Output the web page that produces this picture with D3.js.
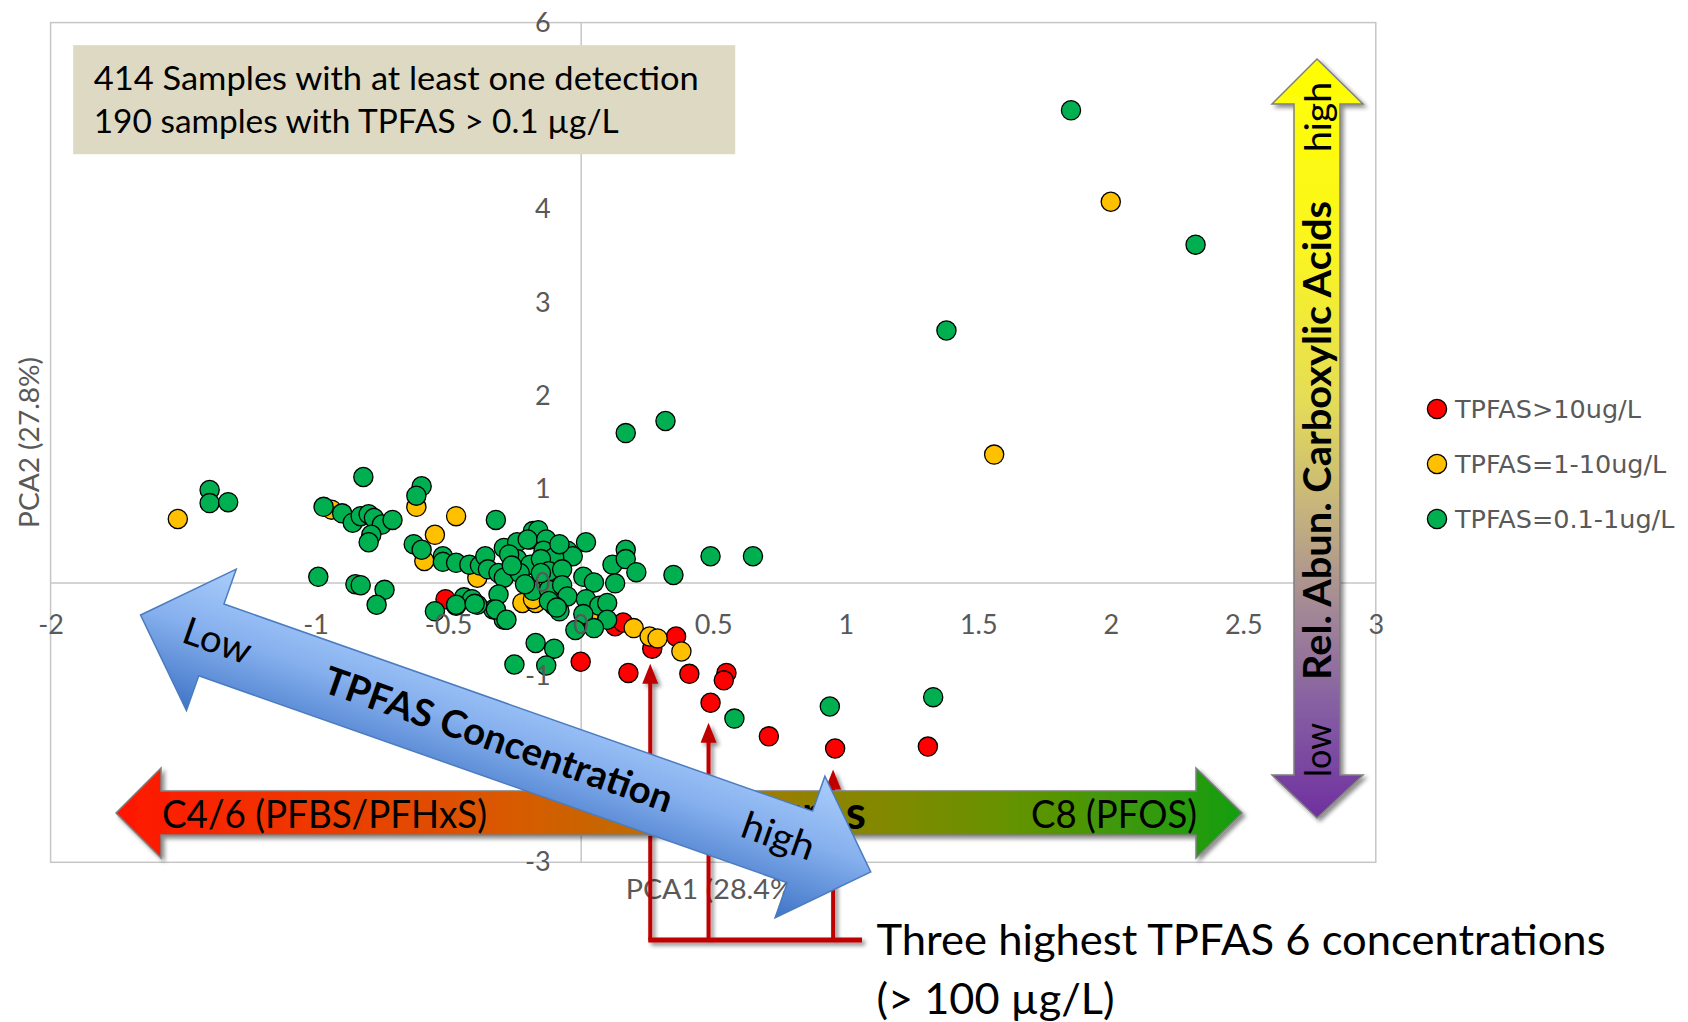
<!DOCTYPE html>
<html>
<head>
<meta charset="utf-8">
<script src="https://cdn.jsdelivr.net/npm/d3@7"></script>
<style>
  html, body { margin: 0; padding: 0; background: #ffffff; }
  svg { display: block; }
</style>
</head>
<body>
<svg id="chart" width="1688" height="1022"></svg>
<script>
// PCA scores [PCA1, PCA2] per TPFAS concentration class
const redPoints = [
  [-0.51, -0.18], [0.13, -0.47], [0.16, -0.43], [0.27, -0.71], [0.36, -0.58],
  [0.41, -0.98], [0.18, -0.97], [0.00, -0.85], [0.55, -0.97], [0.54, -1.05],
  [0.49, -1.29], [0.71, -1.65], [0.96, -1.78], [1.31, -1.76]
];
const orangePoints = [
  [-1.52, 0.68], [-0.94, 0.78], [-0.62, 0.81], [-0.47, 0.71], [-0.55, 0.51],
  [-0.59, 0.23], [-0.39, 0.05], [-0.22, -0.22], [-0.17, -0.22], [-0.18, -0.18],
  [0.03, -0.36], [0.20, -0.49], [0.26, -0.58], [0.29, -0.60], [0.38, -0.74],
  [1.56, 1.37], [2.00, 4.08]
];
const greenPoints = [
  [-1.40, 0.99], [-1.40, 0.85], [-1.33, 0.86],
  [-0.97, 0.81], [-0.90, 0.74], [-0.86, 0.64], [-0.83, 0.71], [-0.80, 0.73],
  [-0.78, 0.69], [-0.75, 0.62], [-0.71, 0.67], [-0.79, 0.51], [-0.80, 0.43],
  [-0.82, 1.13], [-0.60, 1.03], [-0.62, 0.93], [-0.32, 0.67],
  [-0.63, 0.41], [-0.60, 0.35], [-0.52, 0.28], [-0.52, 0.22], [-0.47, 0.21],
  [-0.42, 0.19], [-0.38, 0.18], [-0.36, 0.28], [-0.35, 0.14], [-0.31, 0.10],
  [-0.29, 0.05], [-0.29, 0.37], [-0.24, 0.43], [-0.19, 0.46], [-0.18, 0.55],
  [-0.24, 0.25], [-0.19, 0.19], [-0.23, 0.10], [-0.18, -0.09], [-0.31, -0.13],
  [-0.33, -0.29], [-0.29, -0.40], [-0.27, 0.30], [-0.21, -0.02], [-0.26, 0.18],
  [-0.99, 0.06], [-0.85, -0.02], [-0.83, -0.03], [-0.74, -0.08], [-0.77, -0.24],
  [-0.55, -0.31], [-0.47, -0.25], [-0.44, -0.16], [-0.41, -0.18], [-0.39, -0.24],
  [-0.47, -0.24], [-0.40, -0.23], [-0.32, -0.29], [-0.28, -0.40],
  [-0.16, 0.56], [-0.20, 0.46], [-0.13, 0.46], [-0.14, 0.34], [0.02, 0.43],
  [-0.05, 0.34], [-0.03, 0.28], [-0.10, 0.27], [-0.15, 0.25], [-0.08, 0.41],
  [-0.12, 0.12], [-0.12, -0.08],
  [0.17, 0.35], [0.12, 0.19], [0.17, 0.25], [0.21, 0.11], [0.35, 0.08],
  [0.49, 0.28], [0.65, 0.28],
  [-0.15, 0.10], [-0.07, 0.14], [0.01, 0.06], [0.05, 0.00], [-0.07, -0.03],
  [0.13, -0.01], [-0.05, -0.15], [-0.10, -0.25], [-0.08, -0.31], [0.02, -0.18],
  [0.07, -0.25], [0.10, -0.22], [0.01, -0.34], [0.10, -0.40], [0.05, -0.49],
  [-0.02, -0.51], [-0.12, -0.20], [-0.09, -0.27],
  [-0.17, -0.65], [-0.10, -0.71], [-0.13, -0.89], [-0.25, -0.88],
  [0.58, -1.46], [0.94, -1.33], [1.33, -1.23],
  [0.17, 1.60], [0.32, 1.73], [1.38, 2.70], [1.85, 5.06], [2.32, 3.62]
];

const seriesNames = ["TPFAS>10ug/L", "TPFAS=1-10ug/L", "TPFAS=0.1-1ug/L"];
const seriesColors = ["#FF0000", "#FFC000", "#00B050"];

const xTicks = [-2, -1.5, -1, -0.5, 0, 0.5, 1, 1.5, 2, 2.5, 3];
const yTicks = [-3, -2, -1, 0, 1, 2, 3, 4, 6];

// indices into redPoints of the three samples above 100 µg/L
const highestThree = [3, 10, 12];
const highestTipGap = [15, 20, 21];

const infoLines = [
  "414 Samples with at least one detection",
  "190 samples with TPFAS > 0.1 µg/L"
];

const svg = d3.select("#chart");
const CAL = "Lato, 'Open Sans', sans-serif";

// ---- defs: gradients and shadow ----
const defs = svg.append("defs");

const shadow = defs.append("filter").attr("id", "shadow")
  .attr("x", "-10%").attr("y", "-10%").attr("width", "130%").attr("height", "130%");
shadow.append("feGaussianBlur").attr("in", "SourceAlpha").attr("stdDeviation", 2.2);
shadow.append("feOffset").attr("dx", 3).attr("dy", 3).attr("result", "off");
shadow.append("feComponentTransfer").attr("in", "off").attr("result", "soft")
  .append("feFuncA").attr("type", "linear").attr("slope", 0.45);
const sm = shadow.append("feMerge");
sm.append("feMergeNode").attr("in", "soft");
sm.append("feMergeNode").attr("in", "SourceGraphic");

const gRG = defs.append("linearGradient").attr("id", "gradRG")
  .attr("gradientUnits", "userSpaceOnUse")
  .attr("x1", 116).attr("y1", 0).attr("x2", 1242).attr("y2", 0);
[[0, "#FF1600"], [0.15, "#F03400"], [0.35, "#D85A00"], [0.5, "#B87000"],
 [0.62, "#908200"], [0.78, "#6A9200"], [1, "#149E12"]]
  .forEach(([o, c]) => gRG.append("stop").attr("offset", o).attr("stop-color", c));

const gYP = defs.append("linearGradient").attr("id", "gradYP")
  .attr("gradientUnits", "userSpaceOnUse")
  .attr("x1", 0).attr("y1", 59).attr("x2", 0).attr("y2", 818);
[[0, "#FFFF00"], [0.25, "#FAF521"], [0.45, "#E5DC57"], [0.6, "#C4B27E"],
 [0.72, "#A48A95"], [0.85, "#8660A2"], [1, "#7030A0"]]
  .forEach(([o, c]) => gYP.append("stop").attr("offset", o).attr("stop-color", c));

const gBL = defs.append("linearGradient").attr("id", "gradBlue")
  .attr("gradientUnits", "userSpaceOnUse")
  .attr("x1", 0).attr("y1", -75).attr("x2", 0).attr("y2", 75);
[[0, "#AACDFB"], [0.45, "#86B0EE"], [1, "#3F74C6"]]
  .forEach(([o, c]) => gBL.append("stop").attr("offset", o).attr("stop-color", c));

// ---- scales ----
const x = d3.scaleLinear().domain([-2, 3]).range([50.6, 1375.8]);
const y = d3.scaleLinear().domain([-3, 6]).range([862.3, 22.6]);

// ---- frame and zero lines ----
svg.append("rect")
  .attr("x", x(-2)).attr("y", y(6))
  .attr("width", x(3) - x(-2)).attr("height", y(-3) - y(6))
  .attr("fill", "none").attr("stroke", "#C6C6C6").attr("stroke-width", 1.5);

const fmt = d => String(d);

const xAxisLine = svg.append("g").attr("transform", `translate(0,${y(0)})`)
  .call(d3.axisBottom(x).tickValues(xTicks).tickSize(0).tickSizeOuter(0).tickFormat(""));
xAxisLine.select(".domain").attr("stroke", "#C6C6C6").attr("stroke-width", 1.5);
const yAxisLine = svg.append("g").attr("transform", `translate(${x(0)},0)`)
  .call(d3.axisLeft(y).tickValues(yTicks).tickSize(0).tickSizeOuter(0).tickFormat(""));
yAxisLine.select(".domain").attr("stroke", "#C6C6C6").attr("stroke-width", 1.5);

// ---- scatter points (red first, green on top) ----
const allSeries = [redPoints, orangePoints, greenPoints];
allSeries.forEach((pts, i) => {
  svg.append("g").selectAll("circle").data(pts).join("circle")
    .attr("cx", d => x(d[0])).attr("cy", d => y(d[1])).attr("r", 9.6)
    .attr("fill", seriesColors[i]).attr("stroke", "#000").attr("stroke-width", 1.3);
});

// ---- tick labels drawn above the points ----
const xLab = svg.append("g").attr("transform", `translate(0,${y(0)})`)
  .call(d3.axisBottom(x).tickValues(xTicks).tickSize(0).tickPadding(32).tickFormat(fmt));
xLab.select(".domain").remove();
xLab.selectAll("text").attr("font-family", CAL).attr("font-size", 27).attr("fill", "#595959");

const yLab = svg.append("g").attr("transform", `translate(${x(0)},0)`)
  .call(d3.axisLeft(y).tickValues(yTicks).tickSize(0).tickPadding(30).tickFormat(fmt));
yLab.select(".domain").remove();
yLab.selectAll("text").attr("font-family", CAL).attr("font-size", 27).attr("fill", "#595959");

// ---- axis titles ----
svg.append("text")
  .attr("transform", `translate(39,${(y(6) + y(-3)) / 2}) rotate(-90)`)
  .attr("text-anchor", "middle").attr("font-family", CAL).attr("font-size", 27)
  .attr("fill", "#595959").attr("textLength", 171).attr("lengthAdjust", "spacingAndGlyphs")
  .text("PCA2 (27.8%)");
svg.append("text")
  .attr("x", (x(-2) + x(3)) / 2).attr("y", 899)
  .attr("text-anchor", "middle").attr("font-family", CAL).attr("font-size", 27)
  .attr("fill", "#595959").attr("textLength", 175).attr("lengthAdjust", "spacingAndGlyphs")
  .text("PCA1 (28.4%)");

// ---- red call-outs to the three highest samples ----
const callout = svg.append("g").attr("filter", "url(#shadow)");
const baseY = 940;
const calloutX = highestThree.map(i => x(redPoints[i][0]) - 2);
highestThree.forEach((idx, k) => {
  const cx = calloutX[k];
  const tip = y(redPoints[idx][1]) + highestTipGap[k];
  callout.append("line").attr("x1", cx).attr("x2", cx)
    .attr("y1", baseY).attr("y2", tip + 18)
    .attr("stroke", "#C00000").attr("stroke-width", 4);
  callout.append("path")
    .attr("d", `M${cx},${tip} L${cx + 8},${tip + 20} L${cx - 8},${tip + 20} Z`)
    .attr("fill", "#C00000");
});
callout.append("line")
  .attr("x1", calloutX[0] - 2).attr("x2", 862).attr("y1", baseY).attr("y2", baseY)
  .attr("stroke", "#C00000").attr("stroke-width", 5);

svg.append("text").attr("x", 876.5).attr("y", 955)
  .attr("font-family", CAL).attr("font-size", 43).attr("fill", "#000")
  .attr("textLength", 729).attr("lengthAdjust", "spacingAndGlyphs")
  .text("Three highest TPFAS 6 concentrations");
svg.append("text").attr("x", 876.5).attr("y", 1013.5)
  .attr("font-family", CAL).attr("font-size", 43).attr("fill", "#000")
  .attr("textLength", 238).attr("lengthAdjust", "spacingAndGlyphs")
  .text("(> 100 µg/L)");

// ---- chain-length arrow (red to green) ----
const rg = svg.append("g");
rg.append("path")
  .attr("d", "M116,813 L161,768 L161,791 L1196,791 L1196,768 L1242,813 L1196,858 L1196,835 L161,835 L161,858 Z")
  .attr("fill", "url(#gradRG)").attr("stroke", "#7F7F7F").attr("stroke-width", 1.5)
  .attr("filter", "url(#shadow)");
rg.append("text").attr("x", 162).attr("y", 828)
  .attr("font-family", CAL).attr("font-size", 38).attr("fill", "#000")
  .attr("textLength", 325).attr("lengthAdjust", "spacingAndGlyphs")
  .text("C4/6 (PFBS/PFHxS)");
const mid = rg.append("text").attr("x", 866).attr("y", 829).attr("text-anchor", "end")
  .attr("font-family", CAL).attr("font-size", 46).attr("font-weight", "bold").attr("fill", "#000");
mid.append("tspan").text("Mixture");
mid.append("tspan").attr("dx", 3).text("s");
rg.append("text").attr("x", 1031).attr("y", 828)
  .attr("font-family", CAL).attr("font-size", 38).attr("fill", "#000")
  .attr("textLength", 166).attr("lengthAdjust", "spacingAndGlyphs")
  .text("C8 (PFOS)");

// ---- concentration arrow (diagonal, blue) ----
const blue = svg.append("g").attr("transform", "translate(140.6,615) rotate(19.38)");
blue.append("path")
  .attr("d", "M0,0 L75,-75 L75,-38 L699,-38 L699,-75 L774,0 L699,75 L699,38 L75,38 L75,75 Z")
  .attr("fill", "url(#gradBlue)").attr("stroke", "#4A7CC0").attr("stroke-width", 1.5);
blue.append("text").attr("x", 81).attr("y", 12).attr("text-anchor", "middle")
  .attr("font-family", CAL).attr("font-size", 38).attr("fill", "#000")
  .attr("textLength", 70).attr("lengthAdjust", "spacingAndGlyphs").text("Low");
blue.append("text").attr("x", 379).attr("y", 12).attr("text-anchor", "middle")
  .attr("font-family", CAL).attr("font-size", 38).attr("font-weight", "bold").attr("fill", "#000")
  .attr("textLength", 367).attr("lengthAdjust", "spacingAndGlyphs").text("TPFAS Concentration");
blue.append("text").attr("x", 675).attr("y", 10).attr("text-anchor", "middle")
  .attr("font-family", CAL).attr("font-size", 38).attr("fill", "#000")
  .attr("textLength", 75).attr("lengthAdjust", "spacingAndGlyphs").text("high");

// ---- carboxylic acid arrow (vertical, yellow to purple) ----
const va = svg.append("g");
va.append("path")
  .attr("d", "M1317,59 L1363,104 L1340,104 L1340,775 L1363,775 L1317,818 L1272,775 L1294,775 L1294,104 L1272,104 Z")
  .attr("fill", "url(#gradYP)").attr("stroke", "#7F7F7F").attr("stroke-width", 1.5)
  .attr("filter", "url(#shadow)");
const vText = (cy, str, len, bold) => va.append("text")
  .attr("transform", `translate(1331,${cy}) rotate(-90)`)
  .attr("text-anchor", "middle").attr("font-family", CAL)
  .attr("font-size", bold ? 39 : 36).attr("font-weight", bold ? "bold" : "normal")
  .attr("fill", "#000").attr("textLength", len).attr("lengthAdjust", "spacingAndGlyphs")
  .text(str);
vText(117, "high", 70, false);
vText(440.5, "Rel. Abun. Carboxylic Acids", 479, true);
vText(750, "low", 54, false);

// ---- sample count box ----
svg.append("rect").attr("x", 73.2).attr("y", 45.2).attr("width", 662).attr("height", 109)
  .attr("fill", "#DDD9C3");
svg.append("text").attr("x", 93.7).attr("y", 90)
  .attr("font-family", CAL).attr("font-size", 33).attr("fill", "#000")
  .attr("textLength", 605).attr("lengthAdjust", "spacingAndGlyphs").text(infoLines[0]);
svg.append("text").attr("x", 93.7).attr("y", 133)
  .attr("font-family", CAL).attr("font-size", 33).attr("fill", "#000")
  .attr("textLength", 525).attr("lengthAdjust", "spacingAndGlyphs").text(infoLines[1]);

// ---- legend ----
const legend = svg.append("g").attr("transform", "translate(1437,409)");
seriesNames.forEach((name, i) => {
  const row = legend.append("g").attr("transform", `translate(0,${i * 55})`);
  row.append("circle").attr("r", 9.6).attr("fill", seriesColors[i])
    .attr("stroke", "#000").attr("stroke-width", 1.3);
  row.append("text").attr("x", 18).attr("y", 9)
    .attr("font-family", "'DejaVu Sans', Verdana, sans-serif").attr("font-size", 25.5)
    .attr("fill", "#595959").text(name);
});
</script>
</body>
</html>
